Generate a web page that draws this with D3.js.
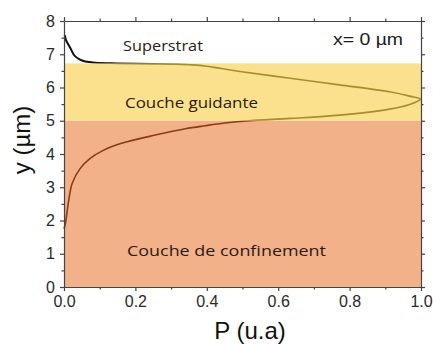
<!DOCTYPE html>
<html>
<head>
<meta charset="utf-8">
<script src="https://cdn.jsdelivr.net/npm/d3@7/dist/d3.min.js"></script>
<style>
  html, body { margin: 0; padding: 0; background: #fff; }
  svg { display: block; }
</style>
</head>
<body>
<svg id="chart" width="433" height="345"></svg>
<script>
// Optical power profile P(y) at x = 0 µm, read along the layer stack
const profileP = [0.002, 0.006, 0.018, 0.030, 0.045, 0.060, 0.088, 0.150, 0.250, 0.310, 0.360, 0.400, 0.440, 0.493,
                  0.633, 0.772, 0.912, 0.968, 0.998, 0.968, 0.912, 0.772, 0.633, 0.520, 0.450, 0.395,
                  0.340, 0.256, 0.161, 0.110, 0.075, 0.045, 0.023, 0.012, 0.004, 0.000];
const profileY = [7.58, 7.42, 7.18, 6.95, 6.84, 6.78, 6.745, 6.725, 6.71, 6.70, 6.68, 6.64, 6.57, 6.48,
                  6.28, 6.08, 5.87, 5.74, 5.65, 5.49, 5.35, 5.17, 5.07, 5.00, 4.93, 4.85,
                  4.76, 4.57, 4.32, 4.11, 3.88, 3.56, 3.12, 2.52, 1.92, 1.75];

// Layer stack (bottom, top in µm)
const layerNames   = ["Couche de confinement", "Couche guidante", "Superstrat"];
const layerBottom  = [0, 5.0, 6.73];
const layerTop     = [5.0, 6.73, 8];
const layerFill    = ["#f3b189", "#fbe08d", "#ffffff"];
const layerStroke  = ["#8a3c12", "#a88d2c", "#111111"];

const xTicks = [0, 0.2, 0.4, 0.6, 0.8, 1.0];
const yTicks = [0, 1, 2, 3, 4, 5, 6, 7, 8];
const xMinor = [0.1, 0.3, 0.5, 0.7, 0.9];
const yMinor = [0.5, 1.5, 2.5, 3.5, 4.5, 5.5, 6.5, 7.5];

const svg = d3.select("#chart");
const margin = { left: 64, top: 21, right: 12, bottom: 58 };
const W = 433, H = 345;
const iw = W - margin.left - margin.right;
const ih = H - margin.top - margin.bottom;

const x = d3.scaleLinear().domain([0, 1]).range([0, iw]);
const y = d3.scaleLinear().domain([0, 8]).range([ih, 0]);

const g = svg.append("g").attr("transform", `translate(${margin.left},${margin.top})`);
const defs = svg.append("defs");

// Layer bands
layerNames.forEach((name, i) => {
  g.append("rect")
    .attr("x", 0).attr("width", iw)
    .attr("y", y(layerTop[i]))
    .attr("height", y(layerBottom[i]) - y(layerTop[i]))
    .attr("fill", layerFill[i]);
  defs.append("clipPath").attr("id", "clip" + i)
    .append("rect")
    .attr("x", -2).attr("width", iw + 4)
    .attr("y", i === 2 ? -2 : y(layerTop[i]))
    .attr("height", y(layerBottom[i]) - y(layerTop[i]) + (i === 2 ? 2 : 0) + (i === 0 ? 2 : 0));
});

// Profile curve, colored per layer
const pts = profileP.map((p, i) => [p, profileY[i]]);
const line = d3.line()
  .x(d => x(d[0]))
  .y(d => y(d[1]))
  .curve(d3.curveCatmullRom.alpha(0.5));

layerNames.forEach((name, i) => {
  g.append("path")
    .datum(pts)
    .attr("d", line)
    .attr("fill", "none")
    .attr("stroke", layerStroke[i])
    .attr("stroke-width", i === 2 ? 2 : 1.6)
    .attr("clip-path", `url(#clip${i})`);
});

// Axes: major + minor ticks, outward on all four sides
const axColor = "#444";
function styleAxis(sel, showLabels) {
  sel.select(".domain").attr("stroke", axColor).attr("stroke-width", 1.2);
  sel.selectAll(".tick line").attr("stroke", axColor).attr("stroke-width", 1.2);
  sel.selectAll(".tick text")
    .attr("fill", "#2a2a2a")
    .style("font-family", "Liberation Sans, Arial, sans-serif")
    .style("font-size", "16px");
  if (!showLabels) sel.selectAll(".tick text").remove();
}

const axBottom = g.append("g").attr("transform", `translate(0,${ih})`)
  .call(d3.axisBottom(x).tickValues(xTicks).tickFormat(d3.format(".1f")).tickSizeInner(4).tickSizeOuter(0).tickPadding(5));
styleAxis(axBottom, true);
g.append("g").attr("transform", `translate(0,${ih})`)
  .call(d3.axisBottom(x).tickValues(xMinor).tickFormat("").tickSize(2.5))
  .call(s => styleAxis(s, false)).select(".domain").remove();

const axTop = g.append("g")
  .call(d3.axisTop(x).tickValues(xTicks).tickFormat("").tickSizeInner(4).tickSizeOuter(0));
styleAxis(axTop, false);
g.append("g")
  .call(d3.axisTop(x).tickValues(xMinor).tickFormat("").tickSize(2.5))
  .call(s => styleAxis(s, false)).select(".domain").remove();

const axLeft = g.append("g")
  .call(d3.axisLeft(y).tickValues(yTicks).tickFormat(d3.format("d")).tickSizeInner(4).tickSizeOuter(0).tickPadding(5));
styleAxis(axLeft, true);
g.append("g")
  .call(d3.axisLeft(y).tickValues(yMinor).tickFormat("").tickSize(2.5))
  .call(s => styleAxis(s, false)).select(".domain").remove();

const axRight = g.append("g").attr("transform", `translate(${iw},0)`)
  .call(d3.axisRight(y).tickValues(yTicks).tickFormat("").tickSizeInner(4).tickSizeOuter(0));
styleAxis(axRight, false);
g.append("g").attr("transform", `translate(${iw},0)`)
  .call(d3.axisRight(y).tickValues(yMinor).tickFormat("").tickSize(2.5))
  .call(s => styleAxis(s, false)).select(".domain").remove();

// Layer labels
const labelFont = "'Open Sans', 'Noto Sans', sans-serif";
const layerLabelX = [127, 125, 123];
const layerLabelY = [256, 108, 51];
const layerLabelW = [199, 133, 80];
layerNames.forEach((name, i) => {
  g.append("text")
    .attr("x", layerLabelX[i] - margin.left)
    .attr("y", layerLabelY[i] - margin.top)
    .attr("textLength", layerLabelW[i])
    .attr("lengthAdjust", "spacingAndGlyphs")
    .attr("fill", "#2b1a10")
    .style("font-family", labelFont)
    .style("font-size", "15px")
    .text(name);
});

// Position annotation
svg.append("text")
  .attr("x", 333).attr("y", 45)
  .attr("textLength", 70).attr("lengthAdjust", "spacingAndGlyphs")
  .attr("fill", "#1a1a1a")
  .style("font-family", "Liberation Sans, Arial, sans-serif")
  .style("font-size", "16px")
  .text("x= 0 µm");

// Axis titles
svg.append("text")
  .attr("x", 250).attr("y", 339)
  .attr("text-anchor", "middle")
  .attr("fill", "#111")
  .style("font-family", "Liberation Sans, Arial, sans-serif")
  .style("font-size", "24px")
  .text("P (u.a)");

svg.append("text")
  .attr("transform", `translate(30,140) rotate(-90)`)
  .attr("text-anchor", "middle")
  .attr("fill", "#111")
  .style("font-family", "Liberation Sans, Arial, sans-serif")
  .style("font-size", "24px")
  .text("y (µm)");
</script>
</body>
</html>
